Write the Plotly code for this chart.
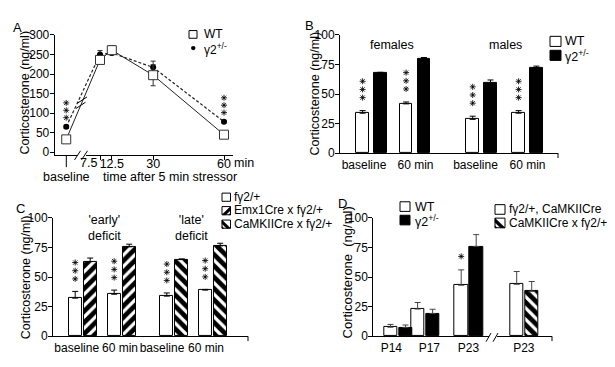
import plotly.graph_objects as go

# ------------------------------------------------------------------ data
# Panel A: time course after a 5 min stressor
a_time_labels = ["baseline", "7.5", "12.5", "30", "60"]
a_wt = [33, 236, 261, 197, 45]
a_wt_err = [4, 7, 11, 27, 3]
a_g2 = [65, 250, 254, 217, 78]
a_g2_err = [4, 10, 5, 16, 3]
a_sig = [3, 0, 0, 0, 3]

# Panel B: females / males
b_cats = ["baseline", "60 min", "baseline", "60 min"]
b_groups = ["females", "males"]
b_wt = [33.8, 41.7, 28.6, 33.8]
b_wt_err = [2.2, 1.6, 2.7, 2.2]
b_g2 = [67.6, 79.8, 59.1, 72.2]
b_g2_err = [0.8, 1.1, 2.8, 1.4]
b_sig = [3, 3, 3, 3]

# Panel C: conditional mutants
c_cats = ["baseline", "60 min", "baseline", "60 min"]
c_groups = ["'early'<br>deficit", "'late'<br>deficit"]
c_ctrl = [32.2, 35.5, 33.9, 39.0]
c_ctrl_err = [5.7, 3.5, 2.7, 0.6]
c_emx = [63.1, 75.6]
c_emx_err = [3.0, 2.2]
c_camk = [64.8, 76.4]
c_camk_err = [0.6, 2.2]
c_sig = [3, 3, 3, 3]

# Panel D: development
d_ages = ["P14", "P17", "P23"]
d_wt = [7.6, 23.0, 43.1]
d_wt_err = [2.4, 5.5, 13.0]
d_g2 = [7.3, 19.2, 75.9]
d_g2_err = [2.2, 3.6, 10.0]
d_sig = [0, 0, 1]
d_cond_ages = ["P23"]
d_ctrl = [43.9]
d_ctrl_err = [10.8]
d_camk = [37.9]
d_camk_err = [8.4]

# ------------------------------------------------------------------ layout helpers
W, H = 615, 367
FONT = "Liberation Sans, Arial, Helvetica, sans-serif"


def PX(x):
    return x / W


def PY(y):
    return 1 - y / H


A_BASE_POS = -6.8
B_CENTERS, B_OFF, B_W = [31.5, 75.0, 141.6, 187.5], 8.9, 12.7
B_LABEL_POS = [24.0, 75.5, 135.5, 187.5]
C_CENTERS, C_OFF, C_W = [29.7, 68.7, 121.3, 159.7], 7.5, 13.0
C_LABEL_POS = [23.7, 67.0, 109.0, 153.0]
D_CENTERS, D_OFF, D_W = [24.7, 51.8, 95.4, 150.9], 7.5, 13.2
D_LABEL_POS = [18.0, 56.0, 95.2, 150.5]

# vertical scale of each panel (pixels per data unit), used to offset the stars
A_PXU = (154.3 - 29) / 308.0
BAR_PXU = 123 / 100.0

open_bar = dict(color="white", line=dict(color="black", width=1))
black_bar = dict(color="black", line=dict(color="black", width=1))


def hatch(shape):
    return dict(color="white", line=dict(color="black", width=1),
                pattern=dict(shape=shape, fgcolor="black", bgcolor="white",
                             fgopacity=1, size=8, solidity=0.6))


def up_err(vals, color="black"):
    return dict(type="data", array=vals, arrayminus=[0] * len(vals),
                symmetric=False, color=color, thickness=1, width=3)


fig = go.Figure()

# ------------------------------------------------------------------ panel A
a_x = [A_BASE_POS if t == "baseline" else float(t) for t in a_time_labels]
fig.add_trace(go.Scatter(
    x=a_x, y=a_g2, mode="lines+markers", name="γ2+/-",
    line=dict(color="#222", width=1.2, dash="3px,2px"),
    marker=dict(symbol="circle", size=6, color="black"),
    error_y=dict(type="data", array=a_g2_err, color="#333", thickness=1, width=2.5),
    xaxis="x", yaxis="y"))
fig.add_trace(go.Scatter(
    x=a_x, y=a_wt, mode="lines+markers", name="WT",
    line=dict(color="#222", width=1),
    marker=dict(symbol="square", size=9, color="white", line=dict(color="#333", width=1)),
    error_y=dict(type="data", array=a_wt_err, color="#333", thickness=1, width=2.5),
    xaxis="x", yaxis="y"))

# ------------------------------------------------------------------ panel B
fig.add_trace(go.Bar(x=[c - B_OFF for c in B_CENTERS], y=b_wt, width=B_W, name="WT",
                     marker=open_bar, error_y=up_err(b_wt_err), xaxis="x2", yaxis="y2"))
fig.add_trace(go.Bar(x=[c + B_OFF for c in B_CENTERS], y=b_g2, width=B_W, name="γ2+/-",
                     marker=black_bar, error_y=up_err(b_g2_err), xaxis="x2", yaxis="y2"))

# ------------------------------------------------------------------ panel C
fig.add_trace(go.Bar(x=[c - C_OFF for c in C_CENTERS], y=c_ctrl, width=C_W, name="fγ2/+",
                     marker=open_bar, error_y=up_err(c_ctrl_err), xaxis="x3", yaxis="y3"))
fig.add_trace(go.Bar(x=[c + C_OFF for c in C_CENTERS[:2]], y=c_emx, width=C_W,
                     name="Emx1Cre x fγ2/+", marker=hatch("/"),
                     error_y=up_err(c_emx_err), xaxis="x3", yaxis="y3"))
fig.add_trace(go.Bar(x=[c + C_OFF for c in C_CENTERS[2:]], y=c_camk, width=C_W,
                     name="CaMKIICre x fγ2/+", marker=hatch("\\"),
                     error_y=up_err(c_camk_err), xaxis="x3", yaxis="y3"))

# ------------------------------------------------------------------ panel D
fig.add_trace(go.Bar(x=[c - D_OFF for c in D_CENTERS[:3]], y=d_wt, width=D_W, name="WT",
                     marker=open_bar, error_y=up_err(d_wt_err, "#444"), xaxis="x4", yaxis="y4"))
fig.add_trace(go.Bar(x=[c + D_OFF for c in D_CENTERS[:3]], y=d_g2, width=D_W, name="γ2+/-",
                     marker=black_bar, error_y=up_err(d_g2_err, "#444"), xaxis="x4", yaxis="y4"))
fig.add_trace(go.Bar(x=[c - D_OFF for c in D_CENTERS[3:]], y=d_ctrl, width=D_W,
                     name="fγ2/+, CaMKIICre", marker=open_bar,
                     error_y=up_err(d_ctrl_err, "#444"), xaxis="x4", yaxis="y4"))
fig.add_trace(go.Bar(x=[c + D_OFF for c in D_CENTERS[3:]], y=d_camk, width=D_W,
                     name="CaMKIICre x fγ2/+", marker=hatch("\\"),
                     error_y=up_err(d_camk_err, "#444"), xaxis="x4", yaxis="y4"))


# ------------------------------------------------------------------ significance stars
def star_trace(xs, tops, counts, gap_px, step_px, pxu, xaxis, yaxis):
    sx, sy = [], []
    for x, top, n in zip(xs, tops, counts):
        for k in range(n):
            sx.append(x)
            sy.append(top + (gap_px + k * step_px) / pxu)
    fig.add_trace(go.Scatter(x=sx, y=sy, mode="markers", name="significance",
                             marker=dict(symbol="asterisk-open", size=5, color="black",
                                         line=dict(color="black", width=0.85)),
                             xaxis=xaxis, yaxis=yaxis, hoverinfo="skip"))


star_trace(a_x, a_g2, a_sig, 9.5, 7.7, A_PXU, "x", "y")
star_trace([c - B_OFF for c in B_CENTERS], [v + e for v, e in zip(b_wt, b_wt_err)],
           b_sig, 13.5, 8.5, BAR_PXU, "x2", "y2")
star_trace([c - C_OFF for c in C_CENTERS], [v + e for v, e in zip(c_ctrl, c_ctrl_err)],
           c_sig, 13, 8.5, BAR_PXU, "x3", "y3")
star_trace([c - D_OFF for c in D_CENTERS[:3]], [v + e for v, e in zip(d_wt, d_wt_err)],
           d_sig, 14, 8.5, BAR_PXU, "x4", "y4")

# ------------------------------------------------------------------ axes
common = dict(showline=True, linecolor="black", linewidth=1, showgrid=False,
              zeroline=False, tickfont=dict(size=12, color="black", family=FONT),
              ticks="outside", tickcolor="black", ticklen=4, tickwidth=1, fixedrange=True)
cat_x = dict(common, ticks="", ticklen=0, tickangle=0)

# "7.5" is written beside its tick (it would collide with "12.5")
a_tick_vals = a_x[1:]
a_tick_text = ["" if t == "7.5" else t for t in a_time_labels[1:]]

fig.update_layout(
    width=W, height=H, margin=dict(l=0, r=0, t=0, b=0),
    paper_bgcolor="white", plot_bgcolor="white", showlegend=False,
    font=dict(family=FONT, size=12, color="black"),
    bargap=0,
    xaxis=dict(common, domain=[PX(54.7), PX(233)], range=[-11.68, 63.81],
               tickvals=a_tick_vals, ticktext=a_tick_text, tickangle=0, anchor="y",
               tickfont=dict(size=12.5, color="black", family=FONT),
               ticklabelstandoff=-7),
    yaxis=dict(common, domain=[PY(154.3), PY(29)], range=[-8, 300],
               tickvals=[0, 50, 100, 150, 200, 250, 300], anchor="x",
               ticklabelstandoff=-2),
    xaxis2=dict(cat_x, domain=[PX(340), PX(558)], range=[0, 218],
                tickvals=B_LABEL_POS, ticktext=b_cats, anchor="y2"),
    yaxis2=dict(common, domain=[PY(152), PY(29)], range=[0, 100],
                tickvals=[0, 25, 50, 75, 100], anchor="x2", ticklabelstandoff=-2),
    xaxis3=dict(cat_x, domain=[PX(53), PX(248)], range=[0, 195],
                tickvals=C_LABEL_POS, ticktext=c_cats, anchor="y3"),
    yaxis3=dict(common, domain=[PY(342.3), PY(219.3)], range=[0, 100],
                tickvals=[0, 25, 50, 75, 100], anchor="x3", ticklabelstandoff=-2),
    xaxis4=dict(cat_x, domain=[PX(373.3), PX(552)], range=[0, 178.7],
                tickvals=D_LABEL_POS, ticktext=d_ages + d_cond_ages, anchor="y4"),
    yaxis4=dict(common, domain=[PY(342.3), PY(219.3)], range=[0, 100],
                tickvals=[0, 25, 50, 75, 100], anchor="x4", ticklabelstandoff=-2),
)


# ------------------------------------------------------------------ annotations
def text(x, y, s, size=12, xanchor="center", yanchor="middle", angle=0):
    fig.add_annotation(x=PX(x), y=PY(y), xref="paper", yref="paper", text=s,
                       showarrow=False, xanchor=xanchor, yanchor=yanchor,
                       textangle=angle, font=dict(size=size, family=FONT, color="black"))


# panel letters
text(17, 21, "A", 13)
text(309, 19, "B", 13)
text(20, 209, "C", 13)
text(342, 204, "D", 13)

# y-axis titles
text(25, 89, "Corticosterone (ng/ml)", 12.5, angle=-90)
text(315, 90, "Corticosterone (ng/ml)", 12.5, angle=-90)
text(26, 281, "Corticosterone (ng/ml)", 12.5, angle=-90)
text(347, 276, "Corticosterone\u00a0 (ng/ml)", 13, angle=-90)

# panel A extra x labels
fig.add_annotation(x=a_x[1], y=PY(162.5), xref="x", yref="paper", text="7.5",
                   showarrow=False, xanchor="right", yanchor="middle", xshift=-1.5,
                   font=dict(size=12.5, family=FONT, color="black"))
text(66.5, 177, "baseline", 12.5)
text(170, 177, "time after 5 min stressor", 12.5)
text(244, 162.5, "min", 12.5)

# group labels
text(392, 39, b_groups[0], 12.5)
text(505, 39, b_groups[1], 12.5)
text(104, 229.5, c_groups[0], 12.5)
text(191.5, 229.5, c_groups[1], 12.5)

# ------------------------------------------------------------------ legends (drawn)
shapes = []


def rect(x0, y0, x1, y1, fill="white"):
    shapes.append(dict(type="rect", xref="paper", yref="paper", x0=PX(x0), x1=PX(x1),
                       y0=PY(y1), y1=PY(y0), fillcolor=fill,
                       line=dict(color="black", width=1), layer="above"))


def poly(pts, fill="black"):
    path = "M " + " L ".join(f"{PX(x):.5f},{PY(y):.5f}" for x, y in pts) + " Z"
    shapes.append(dict(type="path", xref="paper", yref="paper", path=path,
                       fillcolor=fill, line=dict(color="black", width=0.5), layer="above"))


def seg(x0, y0, x1, y1, color="black", width=1):
    shapes.append(dict(type="line", xref="paper", yref="paper", x0=PX(x0), x1=PX(x1),
                       y0=PY(y0), y1=PY(y1), line=dict(color=color, width=width),
                       layer="above"))


def hatch_glyph(x0, y0, s, direction):
    rect(x0, y0, x0 + s, y0 + s)
    if direction == "/":
        poly([(x0, y0 + s), (x0 + s, y0), (x0 + s, y0 + 0.45 * s), (x0 + 0.45 * s, y0 + s)])
        poly([(x0 + s, y0 + 0.8 * s), (x0 + s, y0 + s), (x0 + 0.8 * s, y0 + s)])
    else:
        poly([(x0, y0), (x0 + s, y0 + s), (x0 + 0.55 * s, y0 + s), (x0, y0 + 0.45 * s)])
        poly([(x0, y0 + 0.8 * s), (x0, y0 + s), (x0 + 0.2 * s, y0 + s)])


# A legend
rect(189, 24.5, 197, 32.5)
shapes.append(dict(type="circle", xref="paper", yref="paper", x0=PX(191), x1=PX(195.5),
                   y0=PY(45), y1=PY(40.5), fillcolor="black", line=dict(color="black", width=0),
                   layer="above"))
text(202, 28.5, "WT", 12, xanchor="left")
text(202, 43.5, "γ2<sup>+/-</sup>", 12, xanchor="left")

# B legend
rect(550, 30.5, 561, 41)
rect(550, 45, 561, 55.5, fill="black")
text(563, 35.5, "WT", 12.5, xanchor="left")
text(563, 51, "γ2<sup>+/-</sup>", 12.5, xanchor="left")

# C legend
rect(222, 193.5, 230.5, 202)
hatch_glyph(222, 207.5, 8.5, "/")
hatch_glyph(222, 221.5, 8.5, "\\")
text(231.5, 197.5, "fγ2/+", 12, xanchor="left")
text(231.5, 211.5, "Emx1Cre x fγ2/+", 12, xanchor="left")
text(231.5, 225.5, "CaMKIICre x fγ2/+", 12, xanchor="left")

# D legends
rect(400, 202.5, 410, 212.5)
rect(400, 216.5, 410, 226.5, fill="black")
text(412.5, 207.5, "WT", 12.5, xanchor="left")
text(412.5, 222, "γ2<sup>+/-</sup>", 12.5, xanchor="left")
rect(495, 205.5, 505, 215.5)
hatch_glyph(495, 219.5, 10, "\\")
text(507, 210.5, "fγ2/+, CaMKIICre", 12, xanchor="left")
text(507, 224.5, "CaMKIICre x fγ2/+", 12, xanchor="left")

# ------------------------------------------------------------------ axis decorations
# A: long baseline tick, axis break, and break on the data lines
seg(66.3, 154.3, 66.3, 166.5)
shapes.append(dict(type="rect", xref="paper", yref="paper", x0=PX(77), x1=PX(86),
                   y0=PY(156), y1=PY(152.5), fillcolor="white", line=dict(width=0),
                   layer="above"))
seg(74.5, 159, 80.5, 149.5)
seg(81.5, 159, 87.5, 149.5)
seg(76.0, 105.5, 85.5, 99.0)
seg(77.5, 100.0, 87.0, 93.5)
# end ticks on bar panels
seg(558, 152, 558, 157)
seg(248, 342.3, 248, 347.3)
seg(552, 342.3, 552, 347.3)
# D axis break
shapes.append(dict(type="rect", xref="paper", yref="paper", x0=PX(489), x1=PX(497),
                   y0=PY(344), y1=PY(340.5), fillcolor="white", line=dict(width=0),
                   layer="above"))
seg(486, 348, 491, 339)
seg(493, 348, 498, 339)

fig.update_layout(shapes=shapes)
# the page body gets no default margin so the figure sits at the window origin
fig.write_html("out.html", config={"displayModeBar": False},
               post_script="document.body.style.margin='0';")
